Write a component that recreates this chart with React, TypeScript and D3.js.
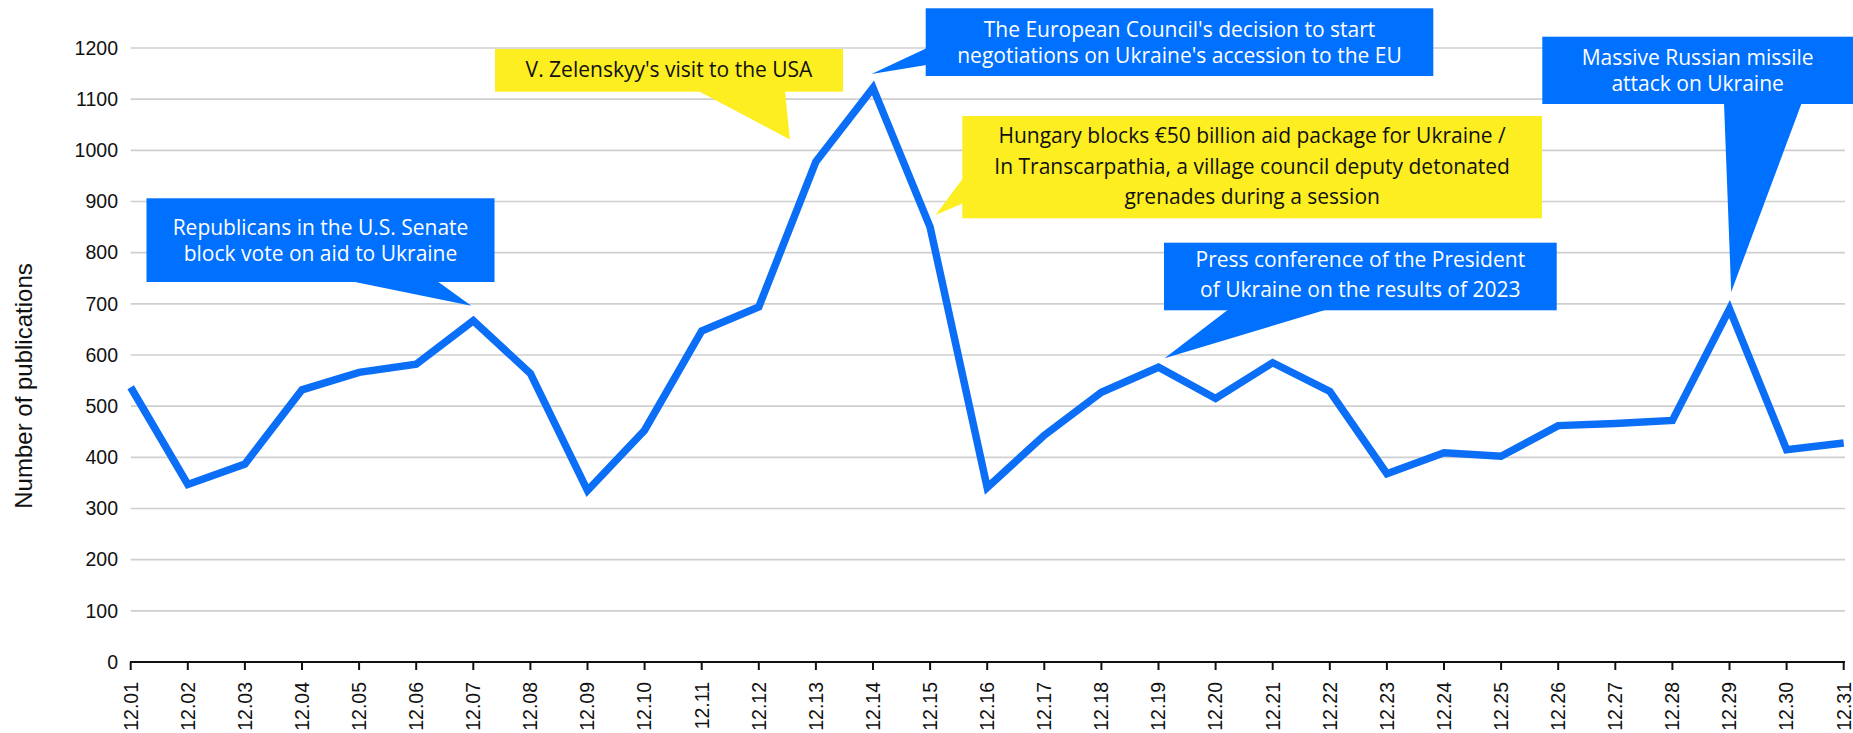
import React from "react";
import * as d3 from "d3";

// ---- data ----
const dates = [
  "12.01","12.02","12.03","12.04","12.05","12.06","12.07","12.08","12.09","12.10",
  "12.11","12.12","12.13","12.14","12.15","12.16","12.17","12.18","12.19","12.20",
  "12.21","12.22","12.23","12.24","12.25","12.26","12.27","12.28","12.29","12.30","12.31",
];
const publications = [
  537, 347, 387, 532, 566, 582, 667, 564, 335, 453,
  647, 694, 978, 1122, 850, 341, 443, 527, 576, 515,
  585, 529, 368, 409, 402, 462, 466, 472, 690, 415, 428,
];
const yTicks = [0, 100, 200, 300, 400, 500, 600, 700, 800, 900, 1000, 1100, 1200];
const yTitle = "Number of publications";

const annotationTexts = [
  ["Republicans in the U.S. Senate", "block vote on aid to Ukraine"],
  ["V. Zelenskyy's visit to the USA"],
  ["The European Council's decision to start", "negotiations on Ukraine's accession to the EU"],
  ["Hungary blocks €50 billion aid package for Ukraine /", "In Transcarpathia, a village council deputy detonated", "grenades during a session"],
  ["Press conference of the President", "of Ukraine on the results of 2023"],
  ["Massive Russian missile", "attack on Ukraine"],
];
const annotationDates = ["12.07", "12.13", "12.14", "12.15", "12.19", "12.29"];

// ---- layout ----
const W = 1853;
const H = 733;
const BLUE = "#0070FF";
const LINE_BLUE = "#0A6EF7";
const YELLOW = "#FCEE21";

const x = d3.scalePoint<string>().domain(dates).range([130.7, 1843.7]);
const y = d3.scaleLinear().domain([0, 1200]).range([662, 48]);

type Layout = {
  fill: string;
  color: string;
  box: [number, number, number, number];
  baseline0: number;
  lineGap: number;
  base: [number, number][];
  tipOffset: [number, number];
};

const layouts: Layout[] = [
  { fill: BLUE, color: "#fff", box: [146.5, 198.3, 494.5, 282], baseline0: 235, lineGap: 25.7,
    base: [[350, 281], [437, 281]], tipOffset: [-2, -15] },
  { fill: YELLOW, color: "#111", box: [495, 49, 843, 91.7], baseline0: 76.7, lineGap: 26,
    base: [[698.3, 91], [785, 91]], tipOffset: [-26, -22] },
  { fill: BLUE, color: "#fff", box: [925.7, 8.3, 1433.3, 76], baseline0: 36.7, lineGap: 26,
    base: [[926.5, 48.3], [926.5, 65]], tipOffset: [-1.5, -14] },
  { fill: YELLOW, color: "#111", box: [962.3, 116, 1542, 218.3], baseline0: 143.3, lineGap: 30.3,
    base: [[963, 178.3], [963, 203.3]], tipOffset: [5.5, -12] },
  { fill: BLUE, color: "#fff", box: [1164, 242.7, 1556.7, 310.3], baseline0: 266.7, lineGap: 30,
    base: [[1228.3, 309.5], [1326.7, 309.5]], tipOffset: [6, -9] },
  { fill: BLUE, color: "#fff", box: [1542.3, 36.7, 1853, 104], baseline0: 65, lineGap: 25.7,
    base: [[1724, 103], [1801.7, 103]], tipOffset: [1.7, -17] },
];

export default function App() {
  const line = d3
    .line<number>()
    .x((_, i) => x(dates[i]) as number)
    .y((d) => y(d));
  const path = line(publications) || "";

  const axisFont = "'Liberation Sans', Arial, Helvetica, sans-serif";
  const noteFont = "'Open Sans', 'Noto Sans', sans-serif";

  return (
    <svg
      width={W}
      height={H}
      viewBox={`0 0 ${W} ${H}`}
      style={{ position: "absolute", left: 0, top: 0, background: "#fff" }}
    >
      {yTicks.filter((t) => t > 0).map((t) => (
        <line key={"g" + t} x1={130.7} x2={1845} y1={y(t)} y2={y(t)} stroke="#cfcfcf" strokeWidth={1.6} />
      ))}
      {yTicks.map((t) => (
        <text key={"yt" + t} x={118} y={y(t)} dy="0.35em" textAnchor="end" fontFamily={axisFont} fontSize={19.5} fill="#111">
          {t}
        </text>
      ))}
      <text
        transform={`translate(32,386) rotate(-90)`}
        textAnchor="middle"
        fontFamily={axisFont}
        fontSize={24}
        fill="#111"
      >
        {yTitle}
      </text>
      <line x1={130} x2={1845} y1={y(0)} y2={y(0)} stroke="#111" strokeWidth={2} />
      {dates.map((d) => (
        <g key={"xt" + d} transform={`translate(${x(d)},0)`}>
          <line y1={y(0)} y2={y(0) + 8} stroke="#111" strokeWidth={2} />
          <text
            transform={`translate(0,${y(0) + 20}) rotate(-90)`}
            dy="0.35em"
            textAnchor="end"
            fontFamily={axisFont}
            fontSize={19.5}
            fill="#111"
          >
            {d}
          </text>
        </g>
      ))}
      <path d={path} fill="none" stroke={LINE_BLUE} strokeWidth={7.5} strokeLinejoin="miter" strokeMiterlimit={4} />
      {layouts.map((l, i) => {
        const di = dates.indexOf(annotationDates[i]);
        const tx = (x(annotationDates[i]) as number) + l.tipOffset[0];
        const ty = y(publications[di]) + l.tipOffset[1];
        const [x0, y0, x1, y1] = l.box;
        const cx = (x0 + x1) / 2;
        return (
          <g key={"a" + i}>
            <rect x={x0} y={y0} width={x1 - x0} height={y1 - y0} fill={l.fill} />
            <polygon
              points={`${l.base[0][0]},${l.base[0][1]} ${l.base[1][0]},${l.base[1][1]} ${tx},${ty}`}
              fill={l.fill}
            />
            {annotationTexts[i].map((s, j) => (
              <text
                key={j}
                x={cx}
                y={l.baseline0 + j * l.lineGap}
                textAnchor="middle"
                fontFamily={noteFont}
                fontSize={21}
                fill={l.color}
              >
                {s}
              </text>
            ))}
          </g>
        );
      })}
    </svg>
  );
}
